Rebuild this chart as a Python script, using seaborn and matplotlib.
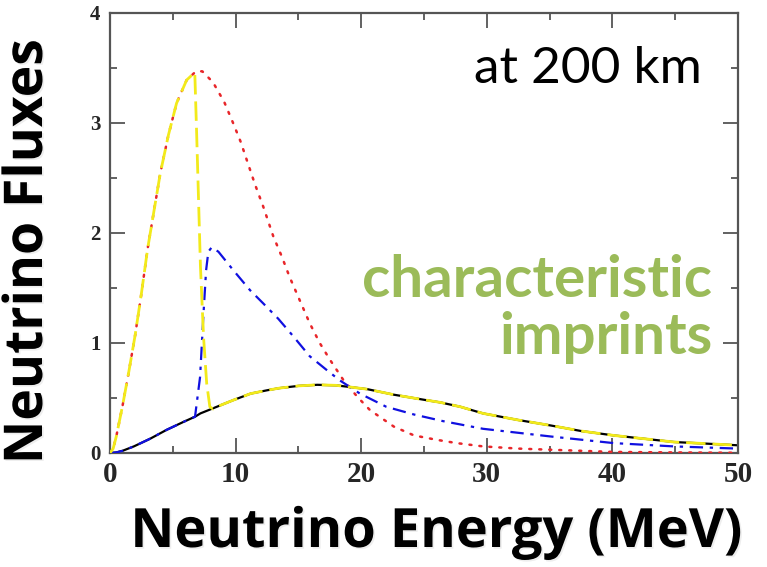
import matplotlib
matplotlib.use("Agg")
import matplotlib.pyplot as plt
import matplotlib.patheffects as pe
import seaborn as sns
from matplotlib.ticker import MultipleLocator

# ---- data ----
red_E = [0, 0.25, 0.5, 1.0, 1.5, 2.0, 2.5, 3.0, 3.5, 4.0, 4.65, 5.3, 6.1, 6.85, 7.35,
         8.2, 9.1, 9.8, 10.4, 10.9, 11.55, 12.2, 13.0, 13.7, 14.3, 15.1, 15.9, 16.7,
         17.5, 18.6, 19.7, 20.7, 22.6, 24.2, 26.0, 27.6, 29.7, 32.5, 35.0, 40.0, 45.0, 50.0]
red_F = [0, 0.04, 0.15, 0.43, 0.74, 1.07, 1.45, 1.86, 2.2, 2.54, 2.89, 3.18, 3.39, 3.47, 3.47,
         3.37, 3.19, 3.0, 2.83, 2.66, 2.44, 2.24, 1.97, 1.78, 1.60, 1.39, 1.18, 1.0,
         0.85, 0.66, 0.51, 0.39, 0.24, 0.16, 0.12, 0.09, 0.06, 0.04, 0.03, 0.01, 0.005, 0.002]

black_E = [0, 0.5, 1.0, 1.9, 3.2, 4.5, 5.8, 6.77, 7.2, 8.5, 9.8, 11.2, 12.5, 13.5, 15.0, 16.5,
           18.0, 19.1, 20.5, 22.6, 25.2, 26.3, 27.9, 29.7, 32.5, 35.1, 37.5, 40.1, 42.5,
           44.9, 47.5, 50.0]
black_F = [0, 0.005, 0.02, 0.06, 0.13, 0.21, 0.28, 0.33, 0.36, 0.42, 0.48, 0.54, 0.57, 0.59,
           0.61, 0.62, 0.615, 0.60, 0.58, 0.53, 0.48, 0.46, 0.42, 0.36, 0.30, 0.25, 0.20,
           0.16, 0.13, 0.10, 0.085, 0.07]

blue_E = [0, 0.5, 1.0, 1.9, 3.2, 4.5, 5.8, 6.77, 7.17, 7.43, 7.65, 7.83, 8.1, 8.63, 9.83,
          11.15, 12.2, 13.4, 14.6, 15.9, 17.3, 18.3, 19.9, 22.0, 24.2, 26.5, 29.7,
          35.1, 40.1, 44.9, 50.0]
blue_F = [0, 0.005, 0.02, 0.06, 0.13, 0.21, 0.28, 0.33, 0.69, 1.24, 1.66, 1.83, 1.87, 1.83,
          1.66, 1.48, 1.36, 1.22, 1.06, 0.88, 0.75, 0.66, 0.54, 0.42, 0.35, 0.29, 0.22,
          0.15, 0.09, 0.06, 0.04]

yellow_E = [0, 0.25, 0.5, 1.0, 1.5, 2.0, 2.5, 3.0, 3.5, 4.0, 4.65, 5.3, 6.1, 6.75, 6.9,
            7.05, 7.2, 7.45, 7.7, 7.95, 8.2, 8.5, 9.8, 11.2, 12.5, 13.5, 15.0, 16.5,
            18.0, 19.1, 20.5, 22.6, 25.2, 26.3, 27.9, 29.7, 32.5, 35.1, 37.5, 40.1, 42.5,
            44.9, 47.5, 50.0]
yellow_F = [0, 0.04, 0.15, 0.43, 0.74, 1.07, 1.45, 1.86, 2.2, 2.54, 2.89, 3.18, 3.39, 3.46, 2.9,
            2.3, 1.7, 1.05, 0.63, 0.42, 0.40, 0.42, 0.48, 0.54, 0.57, 0.59, 0.61, 0.62,
            0.615, 0.60, 0.58, 0.53, 0.48, 0.46, 0.42, 0.36, 0.30, 0.25, 0.20, 0.16, 0.13,
            0.10, 0.085, 0.07]

x_ticks = [0, 10, 20, 30, 40, 50]
y_ticks = [0, 1, 2, 3, 4]

sns.set_theme(style="white")
plt.rcParams['font.family'] = ['DejaVu Sans']

fig = plt.figure(figsize=(7.67, 5.67), dpi=100)
ax = fig.add_axes([110/767, 1 - 453/567, 628/767, 440/567])

sns.lineplot(x=black_E, y=black_F, ax=ax, color="black", linewidth=1.6,
             linestyle="-", estimator=None, sort=False, zorder=2)
sns.lineplot(x=red_E, y=red_F, ax=ax, color="#e8262a", linewidth=1.8,
             linestyle=(0, (0.8, 3.2)), dash_capstyle="round", estimator=None, sort=False, zorder=3)
sns.lineplot(x=blue_E, y=blue_F, ax=ax, color="#1010e0", linewidth=1.6,
             linestyle=(0, (6, 3, 1.5, 3)), estimator=None, sort=False, zorder=4)
sns.lineplot(x=yellow_E, y=yellow_F, ax=ax, color="#f2ea1a", linewidth=2.0,
             linestyle=(0, (7, 2.5)), estimator=None, sort=False, zorder=5)

ax.set_xlim(0, 50)
ax.set_ylim(0, 4)
ax.set_xticks(x_ticks)
ax.set_yticks(y_ticks)
ax.xaxis.set_minor_locator(MultipleLocator(5))
ax.yaxis.set_minor_locator(MultipleLocator(0.5))
ax.tick_params(which="both", direction="in", top=True, right=True, bottom=True, left=True,
               color="#555555", width=1.3)
ax.tick_params(which="major", length=11)
ax.tick_params(which="minor", length=5)
ax.tick_params(axis="x", which="major", pad=6)
ax.tick_params(axis="y", which="major", pad=7)
for lab in ax.get_xticklabels():
    lab.set_fontfamily("Liberation Serif"); lab.set_fontweight("bold"); lab.set_fontsize(21)
for lab in ax.get_yticklabels():
    lab.set_fontfamily("Liberation Serif"); lab.set_fontweight("bold"); lab.set_fontsize(15)
for s in ax.spines.values():
    s.set_color("#555555"); s.set_linewidth(1.6); s.set_visible(True)

shadow = [pe.withSimplePatchShadow(offset=(1.2, -1.2), shadow_rgbFace="#aaaaaa", alpha=0.2)]

ax.set_xlabel("Neutrino Energy (MeV)", fontfamily="Open Sans", fontweight="bold",
              fontsize=39, color="black", va="center", path_effects=shadow)
ax.xaxis.set_label_coords((436-110)/628, (453-533)/440)
ax.set_ylabel("Neutrino Fluxes", fontfamily="Open Sans", fontweight="bold",
              fontsize=38.5, color="black", va="center", path_effects=shadow)
ax.yaxis.set_label_coords((28-110)/628, (453-252)/440)

ax.text((702-110)/628, (453-83)/440, "at 200 km", transform=ax.transAxes,
        ha="right", va="baseline", fontfamily="Lato", fontsize=37, color="black")
ax.text((712-110)/628, (453-297)/440, "characteristic", transform=ax.transAxes,
        ha="right", va="baseline", fontfamily="Lato", fontweight="bold", fontsize=42,
        color="#9bbb59")
ax.text((712-110)/628, (453-354)/440, "imprints", transform=ax.transAxes,
        ha="right", va="baseline", fontfamily="Lato", fontweight="bold", fontsize=42,
        color="#9bbb59")

fig.savefig("out.png", dpi=100)
